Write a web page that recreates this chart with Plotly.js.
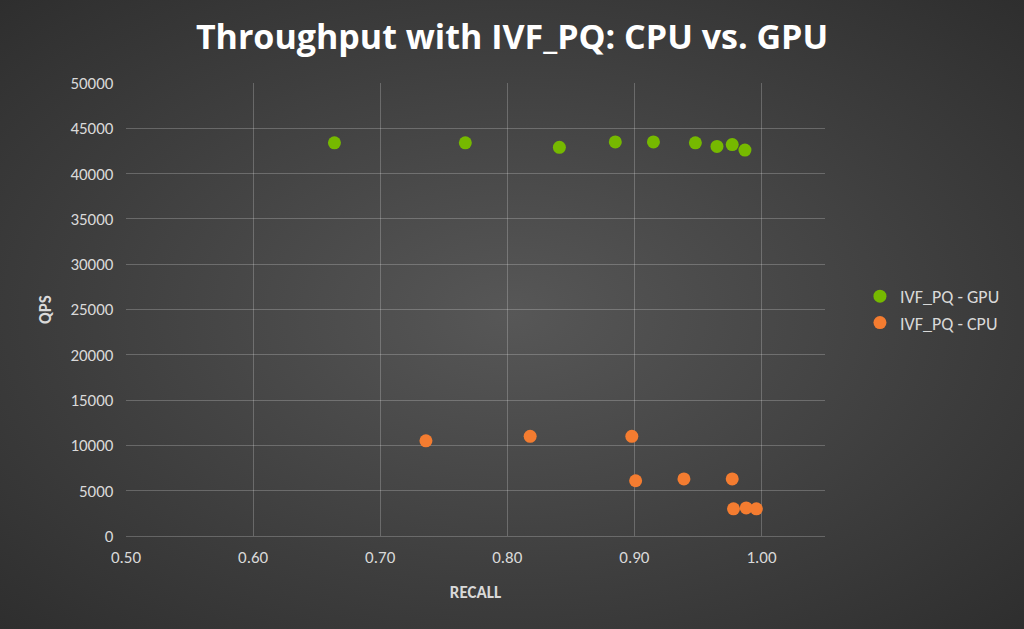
<!DOCTYPE html>
<html>
<head>
<script src="https://cdn.plot.ly/plotly-3.0.1.min.js"></script>
<style>
  html, body { margin: 0; padding: 0; }
  body { width: 1024px; height: 629px; background: radial-gradient(ellipse at 50% 50%, #575757 0%, #3e3e3e 60%, #2e2e2e 100%); }
</style>
</head>
<body>
<div id="chart" style="width:1024px;height:629px;"></div>
<script>
const gpuRecall = [0.664, 0.767, 0.841, 0.885, 0.915, 0.948, 0.965, 0.977, 0.987];
const gpuQps = [43400, 43400, 42900, 43500, 43500, 43400, 43000, 43200, 42600];
const cpuRecall = [0.736, 0.818, 0.898, 0.901, 0.939, 0.977, 0.978, 0.988, 0.996];
const cpuQps = [10500, 11000, 11000, 6100, 6300, 6300, 3000, 3100, 3000];

const data = [
  { x: gpuRecall, y: gpuQps, mode: 'markers', type: 'scatter', name: 'IVF_PQ - GPU',
    marker: { color: '#76b900', size: 13 } },
  { x: cpuRecall, y: cpuQps, mode: 'markers', type: 'scatter', name: 'IVF_PQ - CPU',
    marker: { color: '#f47c30', size: 13 } }
];

const gridColor = 'rgba(255,255,255,0.22)';
const layout = {
  paper_bgcolor: 'rgba(0,0,0,0)',
  plot_bgcolor: 'rgba(0,0,0,0)',
  margin: { l: 126, r: 199, t: 83, b: 93 },
  font: { family: 'Calibri, Carlito, "Open Sans", sans-serif', color: '#d9d9d9', size: 17 },
  title: { text: '<b>Throughput with IVF_PQ: CPU vs. GPU</b>', x: 0.5, y: 0.96,
    font: { size: 34, color: '#ffffff', family: '"Open Sans", sans-serif' } },
  xaxis: { range: [0.5, 1.05], tickvals: [0.5, 0.6, 0.7, 0.8, 0.9, 1.0], tickformat: '.2f',
    showgrid: true, gridcolor: gridColor, zeroline: false,
    showline: true, linecolor: gridColor, ticks: 'outside', ticklen: 6, tickcolor: 'rgba(0,0,0,0)',
    title: { text: '<b>RECALL</b>', font: { size: 17, color: '#d9d9d9' }, standoff: 18 } },
  yaxis: { range: [0, 50000], dtick: 5000, tickformat: 'd',
    showgrid: true, gridcolor: gridColor, zeroline: false,
    showline: false, ticksuffix: '   ',
    title: { text: '<b>QPS</b>', font: { size: 17, color: '#d9d9d9' }, standoff: 14 } },
  showlegend: true,
  legend: { x: 1.05, y: 0.5, yanchor: 'middle', bgcolor: 'rgba(0,0,0,0)',
    font: { size: 18, color: '#d9d9d9' }, tracegroupgap: 10 }
};

Plotly.newPlot('chart', data, layout, { displayModeBar: false });
</script>
</body>
</html>
